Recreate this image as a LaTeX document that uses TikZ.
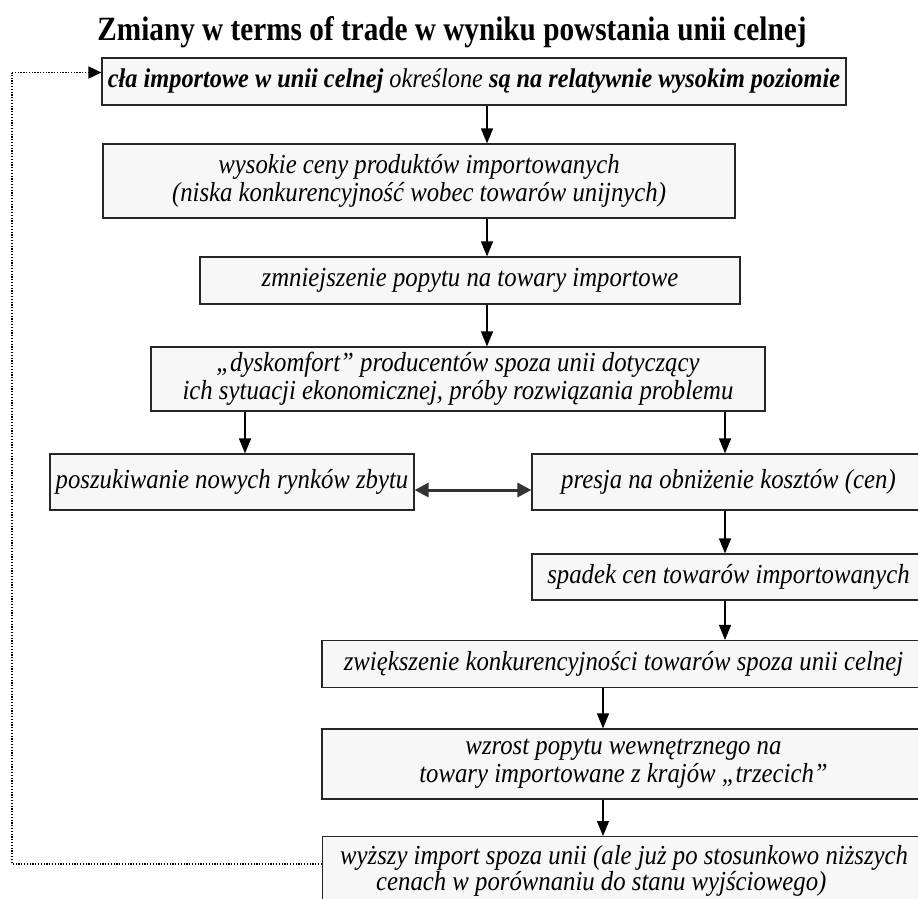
\documentclass[tikz,border=0pt]{standalone}
\usepackage{fontspec}
\setmainfont{Liberation Serif}
\newfontfamily\titlefont{Liberation Serif}[FakeStretch=0.86]
\newfontfamily\stagefont{Liberation Serif}[FakeStretch=0.9]
\usetikzlibrary{arrows.meta}

\tikzset{
  stage/.style={draw=black!85, line width=1.2pt, fill=black!3, inner sep=3pt,
    align=center, font=\stagefont\fontsize{27.5}{28}\selectfont\itshape},
  arr/.style={line width=1.5pt, -{Triangle[length=15pt,width=12pt]}},
  biarr/.style={line width=3pt, draw=black!80,
    {Triangle[length=14pt,width=14pt]}-{Triangle[length=14pt,width=14pt]}},
  loopline/.style={line width=1.8pt, dash pattern=on 1.3pt off 1.5pt},
}

\begin{document}
\begin{tikzpicture}[x=1pt,y=-1pt]
\useasboundingbox (0,0) rectangle (918,898);
\clip (0,0) rectangle (918,898);

% heading
\node (title) at (452,32) {\titlefont\fontsize{34}{38}\selectfont\bfseries
  Zmiany w terms of trade w wyniku powstania unii celnej};

% chain of stages
\node[stage, minimum width=744pt, minimum height=47pt,
  font=\stagefont\fontsize{27}{28}\selectfont\itshape] (b1) at (474,81.5)
  {\textbf{cła importowe w unii celnej} określone \textbf{są na relatywnie wysokim poziomie}};
\node[stage, minimum width=632pt, minimum height=74pt] (b2) at (419,181)
  {wysokie ceny produktów importowanych\\(niska konkurencyjność wobec towarów unijnych)};
\node[stage, minimum width=540pt, minimum height=47pt] (b3) at (470,280.5)
  {zmniejszenie popytu na towary importowe};
\node[stage, minimum width=614pt, minimum height=64pt] (b4) at (458,379)
  {„dyskomfort” producentów spoza unii dotyczący\\ich sytuacji ekonomicznej, próby rozwiązania problemu};
\node[stage, minimum width=364pt, minimum height=56pt] (b5) at (232,482)
  {poszukiwanie nowych rynków zbytu};
\node[stage, minimum width=393pt, minimum height=56pt] (b6) at (728.5,482)
  {presja na obniżenie kosztów (cen)};
\node[stage, minimum width=393pt, minimum height=46pt] (b7) at (728.5,577)
  {spadek cen towarów importowanych};
\node[stage, minimum width=603pt, minimum height=47pt] (b8) at (623.5,664)
  {zwiększenie konkurencyjności towarów spoza unii celnej};
\node[stage, minimum width=603pt, minimum height=70pt] (b9) at (623.5,764)
  {wzrost popytu wewnętrznego na\\towary importowane z krajów „trzecich”};
\node[stage, anchor=north west, minimum width=603pt, minimum height=68pt,
  align=left, font=\stagefont\fontsize{27.5}{24}\selectfont\itshape] (b10) at (322,836)
  {wyższy import spoza unii (ale już po stosunkowo niższych\\
   \hspace*{36pt}cenach w porównaniu do stanu wyjściowego)};

% connector columns
\coordinate (mid) at (487,0);
\coordinate (lft) at (245,0);
\coordinate (rgt) at (725,0);
\coordinate (low) at (603,0);
\coordinate (link) at (0,490);
\coordinate (loop) at (12,0);

\draw[arr] (b1.south -| mid) -- (b2.north -| mid);
\draw[arr] (b2.south -| mid) -- (b3.north -| mid);
\draw[arr] (b3.south -| mid) -- (b4.north -| mid);
\draw[arr] (b4.south -| lft) -- (b5.north -| lft);
\draw[arr] (b4.south -| rgt) -- (b6.north -| rgt);
\draw[arr] (b6.south -| rgt) -- (b7.north -| rgt);
\draw[arr] (b7.south -| rgt) -- (b8.north -| rgt);
\draw[arr] (b8.south -| low) -- (b9.north -| low);
\draw[arr] (b9.south -| low) -- (b10.north -| low);
\draw[biarr] (b5.east |- link) -- (b6.west |- link);

% feedback loop back to the first stage
\draw[loopline] ([yshift=7pt]b10.west) -- ([yshift=7pt]b10.west -| loop)
  -- ([yshift=9pt]b1.west -| loop);
\draw[loopline, -{Triangle[length=13pt,width=12pt]}]
  ([yshift=9pt]b1.west -| loop) -- ([yshift=9pt]b1.west);
\end{tikzpicture}
\end{document}
